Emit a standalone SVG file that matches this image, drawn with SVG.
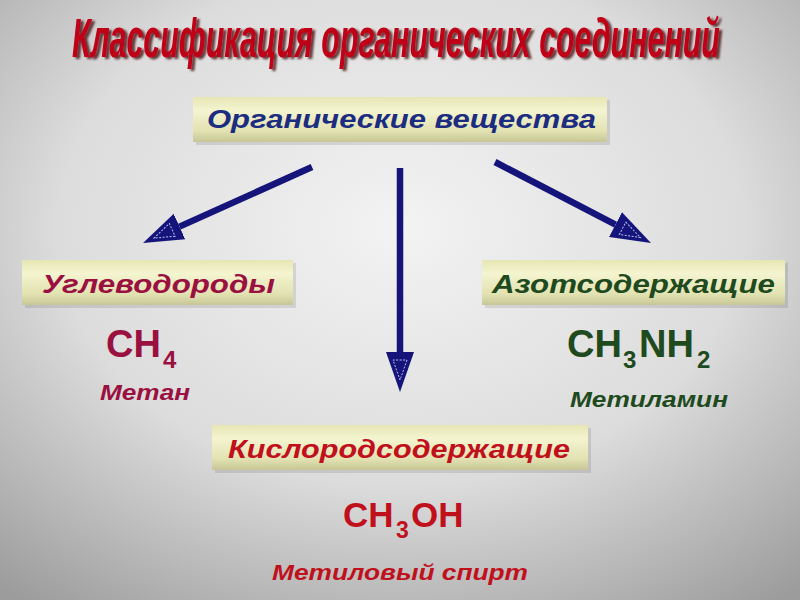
<svg xmlns="http://www.w3.org/2000/svg" width="800" height="600" viewBox="0 0 800 600">
<defs>
<radialGradient id="bg" cx="50%" cy="38%" r="78%">
<stop offset="0" stop-color="#f3f3f3"/>
<stop offset="0.55" stop-color="#dcdcdc"/>
<stop offset="1" stop-color="#9c9c9c"/>
</radialGradient>
<linearGradient id="box" x1="0" y1="0" x2="0" y2="1">
<stop offset="0" stop-color="#e6e6b4"/>
<stop offset="0.3" stop-color="#f4f4d0"/>
<stop offset="0.75" stop-color="#e2e2b2"/>
<stop offset="1" stop-color="#c6c696"/>
</linearGradient>
<filter id="tsh" x="-5%" y="-30%" width="110%" height="160%">
<feDropShadow dx="3" dy="2" stdDeviation="1" flood-color="#3a0000" flood-opacity="0.75"/>
</filter>
<marker id="ah" viewBox="0 -16 42 32" refX="0" refY="0" markerWidth="42" markerHeight="32" markerUnits="userSpaceOnUse" orient="auto">
<path d="M0,-14 L40,0 L0,14 Z" fill="#14147a"/>
<path d="M8,-7 L28,0 L8,7 Z" fill="none" stroke="#b8c0f0" stroke-width="1" stroke-dasharray="2,1.5"/>
</marker>
<style>
.box{fill:url(#box);}
.shadow{fill:#000;opacity:0.1;}
.lbl{font-family:"Liberation Sans",Arial,sans-serif;font-weight:bold;font-style:italic;font-size:25px;}
.f{font-family:"Liberation Sans",Arial,sans-serif;font-weight:bold;}
.nm{font-family:"Liberation Sans",Arial,sans-serif;font-weight:bold;font-style:italic;font-size:22px;}
.ar{stroke:#14147a;stroke-width:6.5;fill:none;marker-end:url(#ah);}
.crim{fill:#9a1040;}
.grn{fill:#1e4a1e;}
.red{fill:#c0101c;}
</style>
</defs>
<rect width="800" height="600" fill="url(#bg)"/>
<g id="title" filter="url(#tsh)">
<text transform="translate(72,57) scale(0.59,1)" x="0" y="0" font-family="'Liberation Sans',Arial,sans-serif" font-weight="bold" font-style="italic" font-size="56" textLength="1098" lengthAdjust="spacingAndGlyphs" fill="#c00018">Классификация органических соединений</text>
</g>
<g id="connectors">
<line class="ar" x1="312" y1="167" x2="179.5" y2="226.6"/>
<line class="ar" x1="400" y1="168" x2="400" y2="352"/>
<line class="ar" x1="495" y1="162" x2="615.5" y2="224.6"/>
</g>
<g id="organic">
<rect class="shadow" x="196" y="100" width="414" height="45"/>
<rect class="box" x="193" y="97" width="414" height="45"/>
<text class="lbl" x="207" y="128" textLength="389" lengthAdjust="spacingAndGlyphs" fill="#1c2c80">Органические вещества</text>
</g>
<g id="hydrocarbons">
<rect class="shadow" x="25" y="263" width="271" height="45"/>
<rect class="box" x="22" y="260" width="271" height="45"/>
<text class="lbl crim" x="42" y="293" textLength="233" lengthAdjust="spacingAndGlyphs">Углеводороды</text>
<text class="f crim" font-size="38" y="357"><tspan x="106">CH</tspan><tspan x="163" y="368" font-size="24">4</tspan></text>
<text class="nm crim" x="100" y="400" textLength="90" lengthAdjust="spacingAndGlyphs">Метан</text>
</g>
<g id="nitrogen">
<rect class="shadow" x="485" y="263" width="303" height="45"/>
<rect class="box" x="482" y="260" width="303" height="45"/>
<text class="lbl grn" x="492" y="293" textLength="283" lengthAdjust="spacingAndGlyphs">Азотсодержащие</text>
<text class="f grn" font-size="38" y="357"><tspan x="567">CH</tspan><tspan x="623" y="368" font-size="24">3</tspan><tspan x="639" y="357">NH</tspan><tspan x="697" y="368" font-size="24">2</tspan></text>
<text class="nm grn" x="570" y="407" textLength="158" lengthAdjust="spacingAndGlyphs">Метиламин</text>
</g>
<g id="oxygen">
<rect class="shadow" x="215" y="428" width="376" height="45"/>
<rect class="box" x="212" y="425" width="376" height="45"/>
<text class="lbl red" x="228" y="458" textLength="342" lengthAdjust="spacingAndGlyphs">Кислородсодержащие</text>
<text class="f red" font-size="35" y="527"><tspan x="343">CH</tspan><tspan x="396" y="538" font-size="23">3</tspan><tspan x="411" y="527">OH</tspan></text>
<text class="nm red" x="272" y="580" textLength="256" lengthAdjust="spacingAndGlyphs">Метиловый спирт</text>
</g>
</svg>
